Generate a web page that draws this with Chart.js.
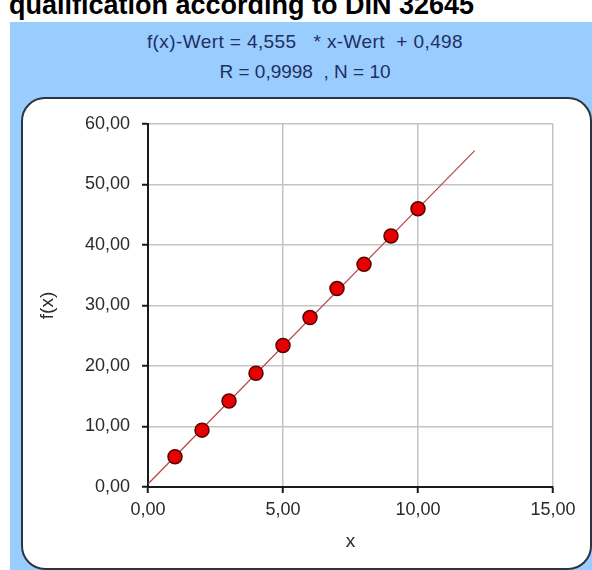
<!DOCTYPE html>
<html>
<head>
<meta charset="utf-8">
<script src="https://cdn.jsdelivr.net/npm/chart.js@4"></script>
<style>
html,body{margin:0;padding:0;background:#fff;width:592px;height:570px;overflow:hidden;position:relative;}
#title{position:absolute;left:9px;top:-10px;font:bold 27px "Liberation Sans",Arial,sans-serif;color:#000;white-space:nowrap;line-height:30px;}
#panel{position:absolute;left:10px;top:22px;width:582px;height:548px;background:#99ccff;}
#eq{position:absolute;left:10px;top:27px;width:590px;text-align:center;font:19px "Liberation Sans Narrow","Liberation Sans",Arial,sans-serif;color:#1f2f60;line-height:30px;white-space:pre;}
#eq .l1{letter-spacing:0.4px;}
#box{position:absolute;left:21px;top:97px;width:567px;height:469px;background:#fff;border:2px solid #2b3440;border-radius:24px;}
#c{position:absolute;left:0;top:0;}
</style>
</head>
<body>
<div id="title">qualification according to DIN 32645</div>
<div id="panel"></div>
<div id="eq"><span class="l1">f(x)-Wert = 4,555   * x-Wert  + 0,498</span>
R = 0,9998  , N = 10</div>
<div id="box"></div>
<canvas id="c" width="592" height="570"></canvas>
<script>
// Data
const pointX = [1, 2, 3, 4, 5, 6, 7, 8, 9, 10];
const pointY = [5.0, 9.4, 14.2, 18.8, 23.4, 28.0, 32.8, 36.8, 41.5, 46.0];
const fitX = [0, 12.1];
const fitY = [0.50, 55.6];
const xTicks = [0, 5, 10, 15];
const yTicks = [0, 10, 20, 30, 40, 50, 60];
const xTitle = 'x';
const yTitle = 'f(x)';

const fmt = v => Number(v).toFixed(2).replace('.', ',');
const tickFont = {family: '"Liberation Sans", Arial, sans-serif', size: 18};

new Chart(document.getElementById('c'), {
  type: 'scatter',
  data: {
    datasets: [
      {
        type: 'scatter',
        data: pointX.map((x, i) => ({x: x, y: pointY[i]})),
        backgroundColor: '#e80000',
        borderColor: '#5a0000',
        borderWidth: 1.5,
        pointRadius: 7,
        pointHoverRadius: 7
      },
      {
        type: 'line',
        data: fitX.map((x, i) => ({x: x, y: fitY[i]})),
        borderColor: '#b84848',
        borderWidth: 1.2,
        pointRadius: 0,
        fill: false,
        showLine: true
      }
    ]
  },
  options: {
    responsive: false,
    animation: false,
    devicePixelRatio: 1,
    layout: {padding: {left: 0, top: 124, right: 39, bottom: 0}},
    plugins: {legend: {display: false}, tooltip: {enabled: false}, title: {display: false}},
    scales: {
      x: {
        type: 'linear',
        min: xTicks[0],
        max: xTicks[xTicks.length - 1],
        afterBuildTicks: s => { s.ticks = xTicks.map(v => ({value: v})); },
        afterFit: s => { s.height = 83; },
        ticks: {callback: fmt, font: tickFont, color: '#2a2a2a', padding: 6, maxRotation: 0},
        grid: {color: '#c4c4c4', lineWidth: 1.5, tickLength: 6, tickColor: '#1a1a1a', tickWidth: 2},
        border: {display: true, color: '#1a1a1a', width: 2},
        title: {display: true, text: xTitle, font: {family: '"Liberation Sans", Arial, sans-serif', size: 19}, color: '#2a2a2a', padding: {top: 0, bottom: 17}}
      },
      y: {
        type: 'linear',
        min: yTicks[0],
        max: yTicks[yTicks.length - 1],
        afterBuildTicks: s => { s.ticks = yTicks.map(v => ({value: v})); },
        afterFit: s => { s.width = 148; },
        ticks: {callback: fmt, font: tickFont, color: '#2a2a2a', padding: 12},
        grid: {color: '#c4c4c4', lineWidth: 1.5, tickLength: 6, tickColor: '#1a1a1a', tickWidth: 2},
        border: {display: true, color: '#1a1a1a', width: 2},
        title: {display: true, text: yTitle, font: {family: '"Liberation Sans", Arial, sans-serif', size: 19}, color: '#2a2a2a', padding: {top: 36, bottom: 0}}
      }
    }
  }
});
</script>
</body>
</html>
